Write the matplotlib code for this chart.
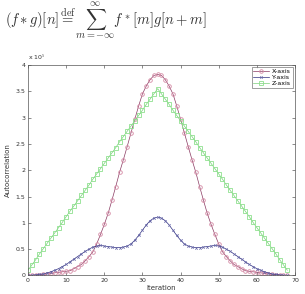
import matplotlib
matplotlib.use("Agg")
import matplotlib.pyplot as plt

plt.rcParams['mathtext.fontset'] = 'cm'

# autocorrelation values, units of 1e5, index 0..68
iteration = list(range(69))
x_axis = [0.0, 0.005, 0.01, 0.015, 0.02, 0.03, 0.04, 0.05, 0.06, 0.07,
          0.08, 0.09, 0.13, 0.17, 0.21, 0.28, 0.36, 0.45, 0.6, 0.78,
          0.97, 1.18, 1.43, 1.69, 1.96, 2.2, 2.45, 2.71, 2.97, 3.22,
          3.45, 3.6, 3.72, 3.8, 3.82,
          3.8, 3.72, 3.6, 3.45, 3.22, 2.97, 2.71, 2.45, 2.2, 1.96,
          1.69, 1.43, 1.18, 0.97, 0.78, 0.6, 0.45, 0.36, 0.28, 0.21,
          0.17, 0.13, 0.09, 0.08, 0.07, 0.06, 0.05, 0.04, 0.03, 0.02,
          0.015, 0.01, 0.005, 0.0]
y_axis = [0.0, 0.005, 0.01, 0.02, 0.03, 0.05, 0.07, 0.1, 0.13, 0.17,
          0.21, 0.26, 0.31, 0.36, 0.41, 0.46, 0.5, 0.54, 0.56, 0.57,
          0.56, 0.55, 0.54, 0.53, 0.53, 0.54, 0.56, 0.6, 0.67, 0.76,
          0.86, 0.96, 1.04, 1.09, 1.11,
          1.09, 1.04, 0.96, 0.86, 0.76, 0.67, 0.6, 0.56, 0.54, 0.53,
          0.53, 0.54, 0.55, 0.56, 0.57, 0.56, 0.54, 0.5, 0.46, 0.41,
          0.36, 0.31, 0.26, 0.21, 0.17, 0.13, 0.1, 0.07, 0.05, 0.03,
          0.02, 0.01, 0.005, 0.0]
z_axis = [0.10, 0.20, 0.30, 0.41, 0.51, 0.61, 0.71, 0.81, 0.91, 1.01,
          1.12, 1.22, 1.32, 1.42, 1.52, 1.62, 1.72, 1.83, 1.93, 2.03,
          2.13, 2.23, 2.33, 2.43, 2.54, 2.64, 2.74, 2.84, 2.94, 3.04,
          3.14, 3.25, 3.35, 3.45, 3.55,
          3.45, 3.35, 3.25, 3.14, 3.04, 2.94, 2.84, 2.74, 2.64, 2.54,
          2.43, 2.33, 2.23, 2.13, 2.03, 1.93, 1.83, 1.72, 1.62, 1.52,
          1.42, 1.32, 1.22, 1.12, 1.01, 0.91, 0.81, 0.71, 0.61, 0.51,
          0.41, 0.30, 0.20, 0.10]
y_ticks = [0, 0.5, 1, 1.5, 2, 2.5, 3, 3.5, 4]
x_ticks = [0, 10, 20, 30, 40, 50, 60, 70]

fig = plt.figure(figsize=(3.05, 2.94), dpi=100)
ax = fig.add_axes([0.092, 0.063, 0.875, 0.716])

ax.plot(iteration, x_axis, '-o', color='#8a3a62', lw=0.5, ms=2.6,
        mfc='none', mec='#d58aa5', mew=0.6, label='X-axis')
ax.plot(iteration, y_axis, '-x', color='#2e2e80', lw=0.5, ms=1.8,
        mec='#6a6aaa', mew=0.5, label='Y-axis')
ax.plot(iteration, z_axis, '-s', color='#7ad07a', lw=0.5, ms=2.3,
        mfc='none', mec='#8ee08e', mew=0.6, label='Z-axis')

ax.set_xlim(0, 70)
ax.set_ylim(0, 4)
ax.set_xticks(x_ticks)
ax.set_yticks(y_ticks)
ax.set_yticklabels(['%g' % t for t in y_ticks])
ax.tick_params(direction='in', top=True, right=True, labelsize=4.5,
               length=2, width=0.4, pad=2, colors='#333333')
for s in ax.spines.values():
    s.set_linewidth(0.5)
    s.set_color('#555555')

ax.set_xlabel('Iteration', fontsize=5, labelpad=1, color='#333333')
ax.set_ylabel('Autocorrelation', fontsize=5, labelpad=3, color='#333333')
ax.text(0.0, 1.012, r'x 10$^5$', transform=ax.transAxes, fontsize=4.5,
        color='#333333', va='bottom')

leg = ax.legend(loc='upper right', fontsize=4.5, frameon=True, fancybox=False,
                edgecolor='#555555', borderpad=0.3, labelspacing=0.1,
                handlelength=2.5, handletextpad=0.5, borderaxespad=0.3)
leg.get_frame().set_linewidth(0.5)

fig.text(0.015, 0.93,
         r'$(f\,{*}\,g)[n] \overset{\mathrm{def}}{=} \sum_{m=-\infty}^{\infty} f^*[m]g[n+m]$',
         fontsize=10.5, color='#333333', va='center')

fig.savefig('out.png', dpi=100)
